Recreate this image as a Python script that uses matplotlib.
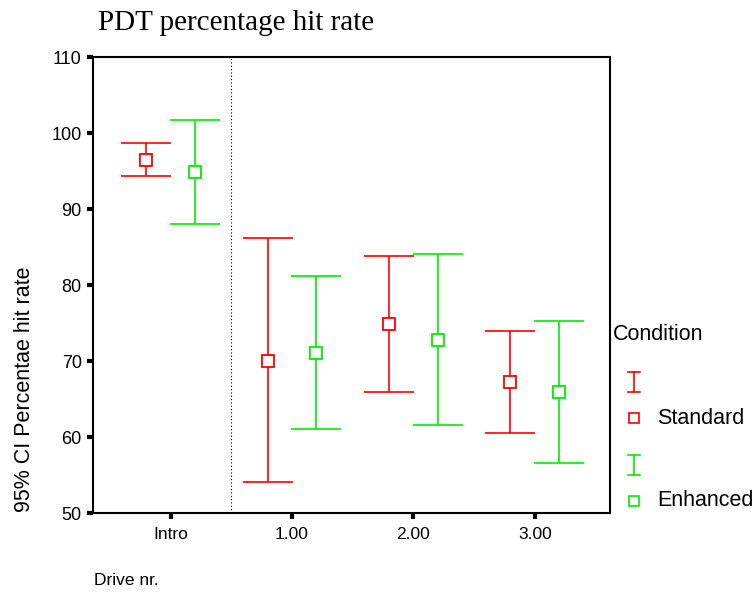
import numpy as np
import matplotlib
matplotlib.use("Agg")
import matplotlib.pyplot as plt
from matplotlib.lines import Line2D

drives = ["Intro", "1.00", "2.00", "3.00"]
std_mean = [96.5, 70.0, 74.9, 67.2]
std_low = [94.3, 54.1, 65.9, 60.5]
std_high = [98.7, 86.2, 83.8, 74.0]
enh_mean = [94.9, 71.1, 72.7, 65.9]
enh_low = [88.0, 61.1, 61.6, 56.6]
enh_high = [101.7, 81.2, 84.1, 75.3]

red = "#ff0000"
green = "#00ee00"

plt.rcParams['font.family'] = ['Liberation Sans', 'DejaVu Sans']

fig = plt.figure(figsize=(7.55, 6.0), dpi=100)
ax = fig.add_axes([0.123, 0.145, 0.685, 0.760])

x = np.arange(len(drives))
off = 0.2

def draw(xs, mean, low, high, col):
	mean = np.array(mean)
	err = np.vstack((mean - np.array(low), np.array(high) - mean))
	ax.errorbar(xs, mean, yerr=err, fmt='none', ecolor=col, elinewidth=1.2,
				capsize=18, capthick=1.2)
	ax.plot(xs, mean, 's', mfc='white', mec=col, ms=8, mew=1.3, linestyle='none')

draw(x - off, std_mean, std_low, std_high, red)
draw(x + off, enh_mean, enh_low, enh_high, green)

ax.axvline(0.5, color='black', linestyle=(0, (1, 2)), linewidth=0.8)

ax.set_xlim(-0.64, 3.62)
ax.set_ylim(50, 110)
ax.set_xticks(x)
ax.set_xticklabels(drives, fontsize=12.5)
ax.set_yticks(np.arange(50, 111, 10))
ax.tick_params(axis='y', labelsize=13, pad=4)
ax.tick_params(axis='x', pad=6)
ax.tick_params(direction='out', length=4, width=3, color='black')
for s in ax.spines.values():
	s.set_linewidth(1.5)

fig.text(0.13, 0.962, "PDT percentage hit rate", family='Liberation Serif',
		 fontsize=21, va='center', ha='left')
fig.text(0.032, 0.352, "95% CI Percentae hit rate", rotation=90, fontsize=15.5,
		 ha='center', va='center')
fig.text(0.125, 0.02, "Drive nr.", fontsize=12.5, ha='left', va='bottom')

# legend drawn by hand
fig.text(0.812, 0.443, "Condition", fontsize=15.5, ha='left', va='center')
lx = 0.840
for (ybar, ysq, col, lab) in [(0.363, 0.303, red, "Standard"), (0.225, 0.165, green, "Enhanced")]:
	fig.add_artist(Line2D([lx, lx], [ybar - 0.017, ybar + 0.017], color=col, lw=1.2,
						  transform=fig.transFigure))
	for yy in (ybar - 0.017, ybar + 0.017):
		fig.add_artist(Line2D([lx - 0.008, lx + 0.008], [yy, yy], color=col, lw=1.2,
							  transform=fig.transFigure))
	fig.add_artist(Line2D([lx], [ysq], marker='s', mfc='white', mec=col, ms=7, mew=1.2,
						  transform=fig.transFigure))
	fig.text(0.870, ysq, lab, fontsize=15.5, ha='left', va='center')

fig.savefig("out.png", dpi=100)
